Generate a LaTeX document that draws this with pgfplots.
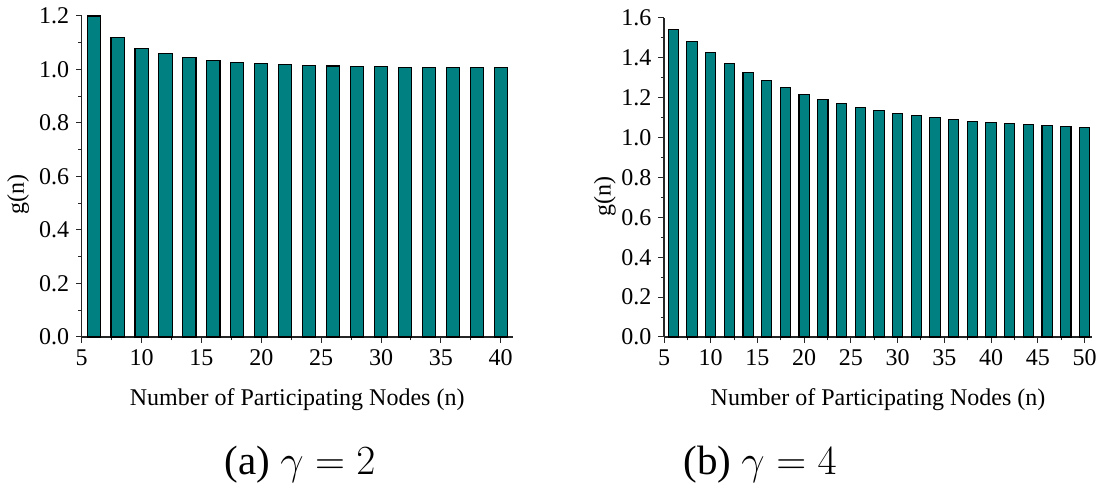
\documentclass[border=0pt]{standalone}
\usepackage{fontspec}
\setmainfont{Liberation Serif}
\usepackage{pgfplots}
\pgfplotsset{compat=1.18}
\definecolor{barteal}{RGB}{0,128,128}
\pgfplotsset{
  gstyle/.style={
    scale only axis,
    axis x line*=bottom, axis y line*=left,
    axis line style={-, black!85, line width=0.6pt},
    tick align=outside,
    major tick length=2.8pt, minor tick length=1.7pt,
    every tick/.style={black!85, line width=0.5pt},
    minor x tick num=1, minor y tick num=1,
    ymin=0, xmin=5,
    clip=false,
    /pgf/number format/assume math mode=true,
    tick label style={font=\fontsize{12}{14}\selectfont},
    label style={font=\fontsize{12}{14}\selectfont},
    yticklabel style={/pgf/number format/.cd, fixed, fixed zerofill, precision=1},
    xticklabel style={/pgf/number format/.cd, fixed, precision=0},
    ylabel={g(n)},
    xlabel={Number of Participating Nodes (n)},
    xlabel style={at={(axis description cs:0.5,0)}, anchor=center, yshift=-31.5pt},
  },
  gbar/.style={ybar, bar width=1.1, fill=barteal, draw=black, line width=0.55pt},
}
\begin{document}
\begin{tikzpicture}
\useasboundingbox (0,0) rectangle (552pt,245.5pt);
\begin{axis}[gstyle,
  at={(40.85pt,77pt)}, anchor=south west,
  width=215.5pt, height=160.5pt,
  xmax=41, ymax=1.2,
  xtick={5,10,...,40}, ytick={0,0.2,...,1.2},
  ylabel style={at={(axis description cs:-0.1476,0.445)}, anchor=center},
]
\addplot[gbar] coordinates {
(6,1.200) (8,1.121) (10,1.080) (12,1.059) (14,1.044) (16,1.034) (18,1.027) (20,1.022) (22,1.019) (24,1.015) (26,1.013) (28,1.011) (30,1.010) (32,1.009) (34,1.008) (36,1.007) (38,1.006) (40,1.006)
};
\end{axis}
\begin{axis}[gstyle,
  at={(332pt,77pt)}, anchor=south west,
  width=214pt, height=159.5pt,
  xmax=50.8, ymax=1.6,
  xtick={5,10,...,50}, ytick={0,0.2,...,1.6},
  ylabel style={at={(axis description cs:-0.1379,0.44)}, anchor=center},
]
\addplot[gbar] coordinates {
(6,1.542) (8,1.483) (10,1.428) (12,1.373) (14,1.325) (16,1.287) (18,1.250) (20,1.218) (22,1.193) (24,1.170) (26,1.152) (28,1.135) (30,1.122) (32,1.110) (34,1.100) (36,1.090) (38,1.082) (40,1.075) (42,1.070) (44,1.065) (46,1.060) (48,1.055) (50,1.052)
};
\end{axis}
\node[font=\fontsize{20.5}{24}\selectfont] at (150pt,13pt) {(a) $\gamma=2$};
\node[font=\fontsize{20.5}{24}\selectfont] at (380pt,13pt) {(b) $\gamma=4$};
\end{tikzpicture}
\end{document}
